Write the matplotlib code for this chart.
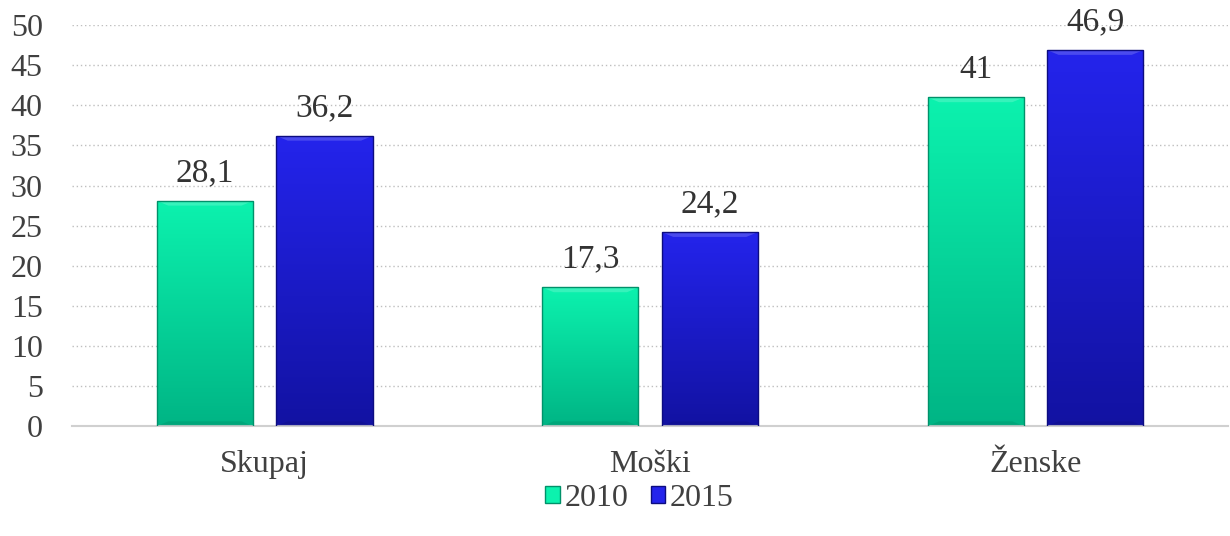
import matplotlib
matplotlib.use("Agg")
import matplotlib.pyplot as plt
import numpy as np
from matplotlib.patches import Patch

categories = ["Skupaj", "Moški", "Ženske"]
series_names = ["2010", "2015"]
values_2010 = [28.1, 17.3, 41.0]
values_2015 = [36.2, 24.2, 46.9]
value_labels_2010 = ["28,1", "17,3", "41"]
value_labels_2015 = ["36,2", "24,2", "46,9"]
y_ticks = [0, 5, 10, 15, 20, 25, 30, 35, 40, 45, 50]

plt.rcParams['font.family'] = ['Liberation Serif', 'DejaVu Serif']

fig = plt.figure(figsize=(12.3, 5.36), dpi=100)
ax = fig.add_axes([0.0585, 0.205, 0.94, 0.748])

# colours: (top, bottom) of the vertical gradient
grad_colors = [("#0CF2AE", "#00B585"), ("#2424EC", "#1212A2")]
edge_colors = ["#00916A", "#0C0C80"]

bar_w = 0.25
gap = 0.06
x = np.arange(len(categories))
offsets = [-(bar_w + gap) / 2, (bar_w + gap) / 2]


def gradient_bar(ax, xc, h, top, bottom, edge):
    bars = ax.bar(xc, h, width=bar_w, color="none", edgecolor=edge, linewidth=1.0, zorder=3)
    rect = bars[0]
    c_top = np.array(matplotlib.colors.to_rgb(top))
    c_bot = np.array(matplotlib.colors.to_rgb(bottom))
    t = np.linspace(0, 1, 100)[:, None]
    img = (c_top * (1 - t) + c_bot * t)[:, None, :]
    im = ax.imshow(img, extent=[xc - bar_w / 2, xc + bar_w / 2, 0, h],
                   aspect="auto", origin="upper", zorder=2)
    im.set_clip_path(rect)
    # soft bevel at top and bottom edges
    bev = 0.6
    ax.fill([xc - bar_w / 2, xc + bar_w / 2, xc + bar_w / 2 - 0.03, xc - bar_w / 2 + 0.03],
            [h, h, h - bev, h - bev], color="white", alpha=0.18, lw=0, zorder=2.5)
    ax.fill([xc - bar_w / 2, xc + bar_w / 2, xc + bar_w / 2 - 0.03, xc - bar_w / 2 + 0.03],
            [0, 0, bev, bev], color="black", alpha=0.08, lw=0, zorder=2.5)


for s, (vals, labs) in enumerate([(values_2010, value_labels_2010), (values_2015, value_labels_2015)]):
    for i, v in enumerate(vals):
        xc = x[i] + offsets[s]
        gradient_bar(ax, xc, v, grad_colors[s][0], grad_colors[s][1], edge_colors[s])
        ax.text(xc, v + 1.6, labs[i], ha="center", va="bottom", fontsize=24, color="#333333")

ax.set_xlim(-0.5, 2.5)
ax.set_ylim(0, 50)
ax.set_yticks(y_ticks)
ax.set_xticks(x)
ax.set_xticklabels(categories)
ax.tick_params(axis="y", length=0, labelsize=23, labelcolor="#404040", pad=21)
ax.tick_params(axis="x", length=0, labelsize=23, labelcolor="#404040", pad=17)

ax.grid(axis="y", linestyle=(0, (1, 2)), color="#BFBFBF", linewidth=1.0, zorder=0)
ax.set_axisbelow(True)
for side in ["left", "right", "top"]:
    ax.spines[side].set_visible(False)
ax.spines["bottom"].set_color("#D0D0D0")
ax.spines["bottom"].set_linewidth(1.5)

handles = [Patch(facecolor=grad_colors[k][0], edgecolor=edge_colors[k]) for k in range(2)]
fig.legend(handles, series_names, loc="center", bbox_to_anchor=(0.52, 0.07), ncol=2,
           frameon=False, fontsize=23, handlelength=0.45, handleheight=0.45,
           handletextpad=0.15, columnspacing=0.7, labelcolor="#404040")

fig.savefig("out.png", dpi=100)
